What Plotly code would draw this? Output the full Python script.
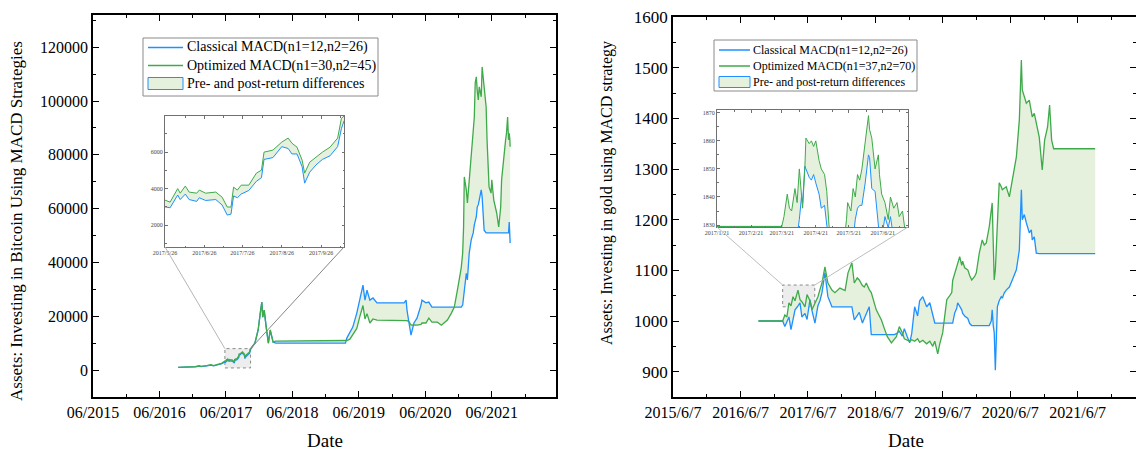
import pandas as pd
import plotly.graph_objects as go

# ---------------- data ----------------
btc_dates = [
    "2016-09-11", "2016-11-01", "2016-12-15", "2017-01-05", "2017-01-15", "2017-02-15", "2017-03-10", "2017-03-25", "2017-04-20", "2017-05-10",
    "2017-05-26", "2017-05-30", "2017-06-05", "2017-06-07", "2017-06-11", "2017-06-14", "2017-06-20", "2017-06-22", "2017-06-27", "2017-07-05",
    "2017-07-10", "2017-07-14", "2017-07-17", "2017-07-19", "2017-07-22", "2017-07-25", "2017-07-31", "2017-08-06", "2017-08-10", "2017-08-12",
    "2017-08-19", "2017-08-26", "2017-08-31", "2017-09-03", "2017-09-07", "2017-09-11", "2017-09-13", "2017-09-17", "2017-09-22", "2017-09-27",
    "2017-10-03", "2017-10-09", "2017-10-12", "2017-10-14", "2017-11-07", "2017-11-25", "2017-12-08", "2017-12-15", "2017-12-20", "2017-12-28",
    "2018-01-08", "2018-01-20", "2018-01-30", "2018-02-06", "2018-02-15", "2018-03-01", "2019-03-20", "2019-03-27", "2019-04-13", "2019-04-29",
    "2019-05-21", "2019-06-07", "2019-06-24", "2019-07-05", "2019-07-16", "2019-08-01", "2019-08-18", "2019-09-09", "2020-02-05", "2020-02-16",
    "2020-02-21", "2020-03-03", "2020-03-14", "2020-03-30", "2020-04-16", "2020-05-08", "2020-05-13", "2020-06-04", "2020-06-20", "2020-07-07",
    "2020-08-06", "2020-08-28", "2020-09-13", "2020-09-30", "2020-10-22", "2020-11-07", "2020-11-24", "2020-12-05", "2020-12-15", "2020-12-23",
    "2020-12-28", "2021-01-01", "2021-01-12", "2021-01-18", "2021-01-28", "2021-02-08", "2021-02-14", "2021-02-19", "2021-02-25", "2021-03-02",
    "2021-03-08", "2021-03-13", "2021-03-19", "2021-03-24", "2021-04-04", "2021-04-09", "2021-04-20", "2021-05-01", "2021-05-06", "2021-05-12",
    "2021-05-17", "2021-05-28", "2021-06-01", "2021-06-12", "2021-06-23", "2021-06-28", "2021-07-09", "2021-07-20", "2021-07-25", "2021-08-05",
    "2021-08-16", "2021-08-21", "2021-08-27", "2021-09-01", "2021-09-05", "2021-09-08", "2021-09-10",
]
btc_optimized = [
    1000, 1100, 1300, 1600, 1400, 1700, 2000, 1700, 2100, 2600,
    3370, 3260, 4000, 3750, 4140, 3810, 3750, 3920, 3750, 3810,
    3530, 2990, 2990, 4080, 3920, 4190, 4190, 4850, 5010, 6000,
    6110, 6550, 6770, 6490, 6270, 5560, 4850, 5450, 5730, 6000,
    6270, 6770, 7860, 7970, 10000, 15000, 22000, 25300, 19700, 22300,
    16000, 10000, 14900, 13000, 10400, 10800, 10800, 11000, 11500, 13000,
    15500, 20000, 24000, 19000, 21000, 17500, 19000, 18600, 18600, 18600,
    18400, 18000, 16700, 16800, 16700, 17000, 17500, 17500, 19300, 17800,
    17800, 16700, 17800, 18600, 21200, 23400, 29700, 33500, 38000, 43500,
    53200, 71800, 67000, 62100, 70700, 80700, 86700, 90000, 94100, 106800,
    109000, 104000, 100400, 105300, 101600, 112700, 104200, 97800, 85600, 73300,
    68100, 65800, 70700, 63200, 60600, 58400, 53200, 60600, 70700, 79200,
    85600, 88200, 94100, 85600, 88000, 86000, 83000,
]
btc_classical = [
    1000, 1050, 1250, 1500, 1300, 1600, 1850, 1600, 1950, 2400,
    3000, 2950, 3650, 3400, 3700, 3400, 3300, 3500, 3350, 3400,
    3100, 2550, 2600, 3600, 3500, 3700, 3900, 4400, 4600, 5600,
    5700, 6300, 6200, 5900, 5900, 5200, 4300, 4900, 5300, 5600,
    5800, 6300, 7300, 7700, 10000, 15000, 22000, 25300, 19700, 22300,
    16000, 10000, 14900, 13000, 10400, 10000, 10000, 11900, 13800, 16000,
    21200, 26000, 31600, 26000, 29700, 26000, 26800, 25000, 25000, 26000,
    22300, 17500, 13000, 17500, 19300, 24200, 26000, 25000, 25300, 23400,
    23400, 23400, 23400, 23400, 23400, 23400, 23400, 23400, 23400, 24200,
    27000, 30900, 36000, 33500, 43500, 48400, 50000, 51000, 54000, 55000,
    57000, 60600, 61500, 63200, 67000, 64400, 52000, 51000, 51000, 51000,
    51000, 51000, 51000, 51000, 51000, 51000, 51000, 51000, 51000, 51000,
    51000, 51000, 51000, 51000, 55000, 52000, 47200,
]

gold_dates = [
    "2016-09-12", "2017-01-21", "2017-02-02", "2017-02-13", "2017-02-24", "2017-03-07", "2017-03-18", "2017-03-29", "2017-04-14", "2017-04-25",
    "2017-05-05", "2017-05-22", "2017-06-02", "2017-06-18", "2017-06-29", "2017-07-15", "2017-07-31", "2017-08-11", "2017-08-22", "2017-09-07",
    "2017-09-23", "2017-10-15", "2017-10-31", "2017-11-27", "2017-12-25", "2018-01-10", "2018-01-31", "2018-02-13", "2018-03-01", "2018-03-12",
    "2018-03-29", "2018-04-08", "2018-04-19", "2018-05-05", "2018-05-16", "2018-06-12", "2018-07-10", "2018-07-26", "2018-08-11", "2018-09-02",
    "2018-09-18", "2018-09-29", "2018-10-15", "2018-10-31", "2018-11-11", "2018-11-27", "2018-12-10", "2018-12-21", "2019-01-06", "2019-01-22",
    "2019-02-02", "2019-02-19", "2019-03-12", "2019-03-29", "2019-04-14", "2019-04-25", "2019-05-05", "2019-05-11", "2019-05-22", "2019-06-07",
    "2019-06-18", "2019-06-29", "2019-07-15", "2019-07-26", "2019-07-31", "2019-08-11", "2019-08-22", "2019-08-27", "2019-09-07", "2019-09-18",
    "2019-09-23", "2019-10-04", "2019-10-21", "2019-10-31", "2019-11-11", "2019-11-27", "2019-12-06", "2019-12-22", "2020-01-07", "2020-01-18",
    "2020-01-29", "2020-02-14", "2020-02-25", "2020-03-01", "2020-03-07", "2020-03-12", "2020-03-18", "2020-03-23", "2020-03-29", "2020-04-08",
    "2020-04-19", "2020-04-25", "2020-05-05", "2020-05-16", "2020-06-02", "2020-06-18", "2020-06-29", "2020-07-10", "2020-07-26", "2020-07-31",
    "2020-08-06", "2020-08-11", "2020-08-22", "2020-09-02", "2020-09-18", "2020-09-29", "2020-10-04", "2020-10-15", "2020-10-26", "2020-11-11",
    "2020-11-27", "2020-12-10", "2020-12-26", "2021-01-06", "2021-01-17", "2021-01-28", "2021-09-10",
]
gold_optimized = [
    1000, 1000, 1012, 1008, 1036, 1030, 1048, 1040, 1061, 1042,
    1038, 1028, 1052, 1040, 1022, 1036, 1048, 1062, 1075, 1107,
    1075, 1061, 1056, 1065, 1060, 1095, 1115, 1075, 1085, 1081,
    1070, 1067, 1075, 1062, 1056, 1022, 1002, 985, 969, 957,
    965, 969, 989, 977, 965, 963, 960, 963, 960, 965,
    958, 962, 955, 960, 950, 960, 945, 935, 955, 977,
    1010, 1042, 1050, 1056, 1080, 1095, 1107, 1115, 1127, 1110,
    1118, 1105, 1101, 1090, 1081, 1088, 1095, 1134, 1160, 1150,
    1154, 1186, 1215, 1233, 1150, 1081, 1100, 1146, 1200, 1273,
    1265, 1259, 1262, 1265, 1245, 1279, 1300, 1324, 1397, 1440,
    1515, 1456, 1440, 1430, 1436, 1415, 1403, 1410, 1391, 1363,
    1298, 1357, 1383, 1426, 1357, 1340, 1340,
]
gold_classical = [
    1000, 1000, 989, 1000, 1008, 983, 1000, 1022, 1030, 1036,
    1008, 1015, 1003, 1042, 1020, 996, 1030, 1040, 1056, 1095,
    1048, 1028, 1028, 1028, 1028, 1028, 1028, 1002, 1010, 1017,
    996, 1005, 1016, 1028, 973, 973, 973, 973, 973, 973,
    973, 975, 980, 970, 985, 969, 957, 975, 1028, 1010,
    1040, 1048, 1028, 1036, 1008, 996, 996, 996, 996, 996,
    996, 996, 996, 996, 996, 1016, 1025, 1036, 1030, 1022,
    1015, 1010, 1005, 995, 991, 991, 991, 991, 991, 991,
    991, 991, 1000, 1022, 990, 977, 903, 963, 1028, 1040,
    1048, 1045, 1055, 1061, 1067, 1081, 1090, 1101, 1140, 1200,
    1259, 1200, 1210, 1194, 1174, 1180, 1160, 1166, 1134, 1133,
    1133, 1133, 1133, 1133, 1133, 1133, 1133,
]

gold_zoom_dates = [
    "2017-01-21", "2017-03-21", "2017-03-23", "2017-03-26", "2017-03-28", "2017-03-30", "2017-04-02", "2017-04-04", "2017-04-06", "2017-04-08",
    "2017-04-09", "2017-04-11", "2017-04-12", "2017-04-15", "2017-04-17", "2017-04-19", "2017-04-21", "2017-04-24", "2017-04-26", "2017-04-29",
    "2017-05-01", "2017-05-03", "2017-05-05", "2017-05-17", "2017-05-19", "2017-05-20", "2017-05-23", "2017-05-25", "2017-05-27", "2017-05-29",
    "2017-05-31", "2017-06-02", "2017-06-05", "2017-06-08", "2017-06-09", "2017-06-11", "2017-06-14", "2017-06-17", "2017-06-18", "2017-06-20",
    "2017-06-23", "2017-06-26", "2017-06-28", "2017-07-01", "2017-07-04", "2017-07-06", "2017-07-09", "2017-07-12", "2017-07-14",
]
gold_zoom_optimized = [
    1829.5, 1829.5, 1833, 1841, 1836, 1835, 1843, 1838, 1850, 1842,
    1836, 1850, 1861, 1859, 1860, 1858, 1860, 1853, 1850, 1848,
    1842, 1830, 1825, 1825, 1832, 1838, 1835, 1843, 1840, 1848,
    1846, 1850, 1859, 1869, 1864, 1861, 1850, 1855, 1848, 1841,
    1838, 1832, 1840, 1836, 1838, 1833, 1835, 1826, 1825,
]
gold_zoom_classical = [
    1829.5, 1829.5, 1826, 1826, 1826, 1826, 1826, 1826, 1832, 1840,
    1838, 1851, 1850, 1847, 1846, 1848, 1845, 1841, 1836, 1837,
    1830, 1825, 1825, 1825, 1825, 1825, 1825, 1825, 1832, 1836,
    1837, 1837, 1845, 1855, 1854, 1843, 1842, 1830, 1826, 1825,
    1833, 1829, 1833, 1825, 1825, 1825, 1825, 1825, 1825,
]

btc_xticks = ["2015-06-01", "2016-06-01", "2017-06-01", "2018-06-01", "2019-06-01", "2020-06-01", "2021-06-01"]
btc_xlabels = ["06/2015", "06/2016", "06/2017", "06/2018", "06/2019", "06/2020", "06/2021"]
gold_xticks = ["2015-06-07", "2016-06-07", "2017-06-07", "2018-06-07", "2019-06-07", "2020-06-07", "2021-06-07"]
gold_xlabels = ["2015/6/7", "2016/6/7", "2017/6/7", "2018/6/7", "2019/6/7", "2020/6/7", "2021/6/7"]
btc_zoom_xticks = ["2017-05-26", "2017-06-26", "2017-07-26", "2017-08-26", "2017-09-26"]
btc_zoom_xlabels = ["2017/5/26", "2017/6/26", "2017/7/26", "2017/8/26", "2017/9/26"]
gold_zoom_xticks = ["2017-01-21", "2017-02-21", "2017-03-21", "2017-04-21", "2017-05-21", "2017-06-21"]
gold_zoom_xlabels = ["2017/1/21", "2017/2/21", "2017/3/21", "2017/4/21", "2017/5/21", "2017/6/21"]

btc_names = ["Classical MACD(n1=12,n2=26)", "Optimized MACD(n1=30,n2=45)", "Pre- and post-return differences"]
gold_names = ["Classical MACD(n1=12,n2=26)", "Optimized MACD(n1=37,n2=70)", "Pre- and post-return differences"]

# zoom windows (main-axis rectangles)
btc_zoom_x = ["2017-05-26", "2017-10-14"]
btc_zoom_y = [800, 7980]
gold_rect_x = ["2017-01-21", "2017-07-14"]
gold_rect_y = [1028, 1071]
gold_zoom_x = ["2017-01-21", "2017-07-14"]
gold_zoom_y = [1829.3, 1871]

# ---------------- styling / layout ----------------
W, H = 1136, 450
FONT = "Liberation Serif"
BLUE = "#1E90FF"
GREEN = "#3FAA4A"
FILL = "#E5F0DD"


def px_x(p):
    return p / W


def px_y(p):
    return 1 - p / H


dom_btc_x = [px_x(93), px_x(556)]
dom_btc_y = [px_y(397), px_y(15)]
dom_gold_x = [px_x(673), 1.0]
dom_gold_y = [px_y(397), px_y(17)]
dom_bz_x = [px_x(165), px_x(344)]
dom_bz_y = [px_y(247), px_y(116)]
dom_gz_x = [px_x(717), px_x(908)]
dom_gz_y = [px_y(227), px_y(110)]

btc_xrange = ["2015-06-01", "2022-05-20"]
btc_yrange = [-10000, 132000]
gold_xrange = ["2015-06-07", "2022-04-19"]
gold_yrange = [850, 1600.01]

fig = go.Figure()


def add_set(x, blue, green, xa, ya, lw):
    fig.add_trace(go.Scatter(x=x, y=green, xaxis=xa, yaxis=ya, mode="lines",
                             line=dict(width=0, color=GREEN), showlegend=False, hoverinfo="skip"))
    fig.add_trace(go.Scatter(x=x, y=blue, xaxis=xa, yaxis=ya, mode="lines",
                             fill="tonexty", fillcolor=FILL, line=dict(width=0, color=BLUE),
                             showlegend=False, hoverinfo="skip"))
    fig.add_trace(go.Scatter(x=x, y=blue, xaxis=xa, yaxis=ya, mode="lines",
                             line=dict(width=lw, color=BLUE), showlegend=False))
    fig.add_trace(go.Scatter(x=x, y=green, xaxis=xa, yaxis=ya, mode="lines",
                             line=dict(width=lw, color=GREEN), showlegend=False))


add_set(btc_dates, btc_classical, btc_optimized, "x", "y", 1.3)
add_set(gold_dates, gold_classical, gold_optimized, "x2", "y2", 1.3)
add_set(btc_dates, btc_classical, btc_optimized, "x3", "y3", 1.0)
add_set(gold_zoom_dates, gold_zoom_classical, gold_zoom_optimized, "x4", "y4", 1.0)


def main_axis(domain, anchor, **kw):
    d = dict(domain=domain, anchor=anchor, showline=True, linecolor="black", linewidth=1.5,
             mirror="ticks", ticks="inside", ticklen=6, tickwidth=1.3, tickcolor="black",
             showgrid=False, zeroline=False, automargin=False, fixedrange=True,
             tickfont=dict(family=FONT, size=16, color="black"))
    d.update(kw)
    return d


def inset_axis(domain, anchor, **kw):
    d = dict(domain=domain, anchor=anchor, showline=True, linecolor="#707070", linewidth=1,
             mirror="ticks", ticks="inside", ticklen=2.5, tickwidth=0.8, tickcolor="#707070",
             showgrid=False, zeroline=False, automargin=False, fixedrange=True,
             tickfont=dict(family=FONT, size=6, color="#444"))
    d.update(kw)
    return d


minor_main = dict(ticks="inside", ticklen=3, tickwidth=1.2, tickcolor="black")
minor_inset = dict(ticks="inside", ticklen=1.5, tickwidth=0.7, tickcolor="#707070")

fig.update_layout(
    width=W, height=H, margin=dict(l=0, r=0, t=0, b=0),
    paper_bgcolor="white", plot_bgcolor="white", showlegend=False,
    font=dict(family=FONT, color="black"),
    xaxis=main_axis(dom_btc_x, "y", type="date", range=btc_xrange, tickmode="array",
                    tickvals=btc_xticks, ticktext=btc_xlabels,
                    minor=dict(minor_main, dtick="M12", tick0="2015-12-01")),
    yaxis=main_axis(dom_btc_y, "x", range=btc_yrange, tickmode="linear", tick0=0, dtick=20000,
                    tickformat="d", minor=dict(minor_main, dtick=10000, tick0=0)),
    xaxis2=main_axis(dom_gold_x, "y2", type="date", range=gold_xrange, tickmode="array",
                     tickvals=gold_xticks, ticktext=gold_xlabels,
                     minor=dict(minor_main, dtick="M12", tick0="2015-12-07")),
    yaxis2=main_axis(dom_gold_y, "x2", range=gold_yrange, tickmode="linear", tick0=0, dtick=100,
                     tickformat="d", tickfont=dict(family=FONT, size=17, color="black"),
                     minor=dict(minor_main, dtick=50, tick0=0)),
    xaxis3=inset_axis(dom_bz_x, "y3", type="date", range=btc_zoom_x, tickmode="array",
                      tickvals=btc_zoom_xticks, ticktext=btc_zoom_xlabels,
                      minor=dict(minor_inset, dtick="M1", tick0="2017-05-11")),
    yaxis3=inset_axis(dom_bz_y, "x3", range=btc_zoom_y, tickmode="linear", tick0=0, dtick=2000,
                      tickformat="d", minor=dict(minor_inset, dtick=1000, tick0=0)),
    xaxis4=inset_axis(dom_gz_x, "y4", type="date", range=gold_zoom_x, tickmode="array",
                      tickvals=gold_zoom_xticks, ticktext=gold_zoom_xlabels,
                      minor=dict(minor_inset, dtick="M1", tick0="2017-01-06")),
    yaxis4=inset_axis(dom_gz_y, "x4", range=gold_zoom_y, tickmode="linear", tick0=0, dtick=10,
                      tickformat="d", minor=dict(minor_inset, dtick=5, tick0=0)),
)


def to_paper(xv, yv, xr, yr, xd, yd):
    t = pd.Timestamp(xv).value
    t0, t1 = pd.Timestamp(xr[0]).value, pd.Timestamp(xr[1]).value
    px = xd[0] + (t - t0) / (t1 - t0) * (xd[1] - xd[0])
    py = yd[0] + (yv - yr[0]) / (yr[1] - yr[0]) * (yd[1] - yd[0])
    return px, py


shapes = []
annotations = []
# dashed zoom rectangles
shapes.append(dict(type="rect", xref="x", yref="y", x0=btc_zoom_x[0], x1=btc_zoom_x[1],
                   y0=btc_zoom_y[0], y1=btc_zoom_y[1], layer="below",
                   fillcolor="rgba(215,215,215,0.45)", line=dict(color="#8a8a8a", width=1, dash="dot")))
shapes.append(dict(type="rect", xref="x2", yref="y2", x0=gold_rect_x[0], x1=gold_rect_x[1],
                   y0=gold_rect_y[0], y1=gold_rect_y[1], layer="below",
                   fillcolor="rgba(215,215,215,0.45)", line=dict(color="#8a8a8a", width=1, dash="dot")))

# connector lines inset -> rectangle
tl = to_paper(btc_zoom_x[0], btc_zoom_y[1], btc_xrange, btc_yrange, dom_btc_x, dom_btc_y)
tr = to_paper(btc_zoom_x[1], btc_zoom_y[1], btc_xrange, btc_yrange, dom_btc_x, dom_btc_y)
shapes.append(dict(type="line", xref="paper", yref="paper", x0=dom_bz_x[0], y0=dom_bz_y[0],
                   x1=tl[0], y1=tl[1], line=dict(color="#b5b5b5", width=1)))
shapes.append(dict(type="line", xref="paper", yref="paper", x0=dom_bz_x[1], y0=dom_bz_y[0],
                   x1=tr[0], y1=tr[1], line=dict(color="#858585", width=1)))
gtl = to_paper(gold_rect_x[0], gold_rect_y[1], gold_xrange, gold_yrange, dom_gold_x, dom_gold_y)
gtr = to_paper(gold_rect_x[1], gold_rect_y[1], gold_xrange, gold_yrange, dom_gold_x, dom_gold_y)
shapes.append(dict(type="line", xref="paper", yref="paper", x0=dom_gz_x[0], y0=dom_gz_y[0],
                   x1=gtl[0], y1=gtl[1], line=dict(color="#bdbdbd", width=1)))
shapes.append(dict(type="line", xref="paper", yref="paper", x0=dom_gz_x[1], y0=dom_gz_y[0],
                   x1=gtr[0], y1=gtr[1], line=dict(color="#bdbdbd", width=1)))


# legends drawn as boxed keys (pixel layout -> paper coords)
def legend_box(names, box, rows, sym_x, text_x, size, sym_h):
    x0, x1, y0, y1 = box
    shapes.append(dict(type="rect", xref="paper", yref="paper", x0=px_x(x0), x1=px_x(x1),
                       y0=px_y(y1), y1=px_y(y0), fillcolor="white",
                       line=dict(color="#8a8a8a", width=1), layer="above"))
    colors = [BLUE, GREEN]
    for i in range(2):
        shapes.append(dict(type="line", xref="paper", yref="paper", x0=px_x(sym_x[0]), x1=px_x(sym_x[1]),
                           y0=px_y(rows[i]), y1=px_y(rows[i]), line=dict(color=colors[i], width=1.5),
                           layer="above"))
    shapes.append(dict(type="rect", xref="paper", yref="paper", x0=px_x(sym_x[0]), x1=px_x(sym_x[1]),
                       y0=px_y(rows[2] + sym_h / 2), y1=px_y(rows[2] - sym_h / 2), fillcolor=FILL,
                       line=dict(color=BLUE, width=1), layer="above"))
    for i in range(3):
        annotations.append(dict(text=names[i], x=px_x(text_x), y=px_y(rows[i]), xanchor="left",
                                yanchor="middle", font=dict(family=FONT, size=size, color="black")))


legend_box(btc_names, (143, 378, 38, 96), (47.5, 65.5, 83.5), (148, 183), 185, 14, 12)
legend_box(gold_names, (714, 917, 40, 91), (50, 66, 82), (719, 750), 751, 12, 11)

annotations += [
    dict(text="Assets: Investing in Bitcoin Using MACD Strategies", x=px_x(17), y=px_y(221),
         textangle=-90, font=dict(family=FONT, size=17, color="black")),
    dict(text="Assets: Investing in gold using MACD strategy", x=px_x(607), y=px_y(193),
         textangle=-90, font=dict(family=FONT, size=16, color="black")),
    dict(text="Date", x=px_x(325), y=px_y(440), font=dict(family=FONT, size=19, color="black")),
    dict(text="Date", x=px_x(906), y=px_y(440), font=dict(family=FONT, size=19, color="black")),
]
for a in annotations:
    a.update(xref="paper", yref="paper", showarrow=False)
    a.setdefault("xanchor", "center")
    a.setdefault("yanchor", "middle")

fig.update_layout(shapes=shapes, annotations=annotations)

fig.write_html("out.html")
